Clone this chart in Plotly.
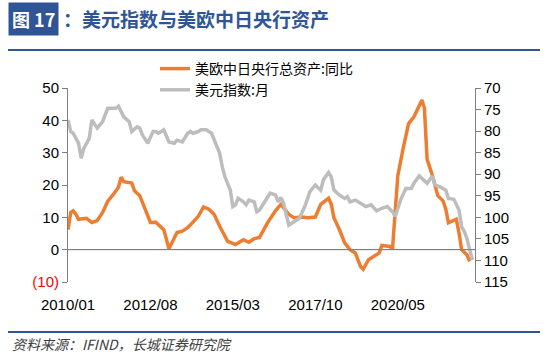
import plotly.graph_objects as go

# ---------------- data ----------------
cb_dates = ["2010-01","2010-02","2010-03","2010-04","2010-05","2010-08","2010-10","2010-12",
            "2011-02","2011-04","2011-06","2011-08","2011-09","2011-10","2012-01","2012-02",
            "2012-04","2012-06","2012-08","2012-10","2013-01","2013-03","2013-06","2013-08",
            "2013-10","2013-12","2014-02","2014-04","2014-06","2014-08","2014-10","2015-01",
            "2015-04","2015-07","2015-09","2015-11","2016-01","2016-04","2016-05","2016-07",
            "2016-09","2016-10","2016-12","2017-02","2017-05","2017-07","2017-10","2017-12",
            "2018-03","2018-04","2018-05","2018-07","2018-09","2018-11","2019-01","2019-03",
            "2019-04","2019-06","2019-08","2019-10","2019-11","2020-02","2020-03","2020-04",
            "2020-05","2020-07","2020-09","2020-11","2021-01","2021-02","2021-03","2021-04",
            "2021-06","2021-08","2021-10","2021-11","2021-12","2022-03","2022-04","2022-05",
            "2022-07","2022-08"]
cb_yoy = [6.2,11.5,12.0,11.0,9.4,9.7,8.4,9.0,
          11.5,15.0,17.0,19.3,22.4,21.0,20.6,18.2,
          16.7,12.5,8.4,8.5,6.2,0.3,5.3,5.7,
          6.8,8.5,10.4,13.2,12.5,10.9,7.3,2.6,
          1.6,3.1,2.3,3.4,3.8,8.3,9.6,12.0,
          14.0,13.0,10.9,9.9,10.1,9.9,10.1,14.0,
          15.9,14.0,9.9,6.3,2.1,0.0,-1.0,-5.2,
          -6.0,-3.1,-2.1,-1.0,1.3,1.0,0.2,11.5,
          22.9,31.3,39.0,41.1,44.3,46.3,43.8,28.0,
          22.9,16.7,15.1,12.5,8.3,9.4,5.2,0.0,
          -1.6,-3.6]

dxy_dates = ["2010-01","2010-02","2010-03","2010-05","2010-06","2010-07","2010-09","2010-10",
             "2010-12","2011-02","2011-03","2011-04","2011-07","2011-08","2011-10","2011-12",
             "2012-01","2012-03","2012-04","2012-05","2012-07","2012-09","2012-10","2012-11",
             "2013-01","2013-03","2013-05","2013-06","2013-08","2013-10","2013-11","2013-12",
             "2014-02","2014-03","2014-05","2014-07","2014-09","2014-10","2014-11","2014-12",
             "2015-02","2015-03","2015-04","2015-05","2015-07","2015-08","2015-09","2015-11",
             "2015-12","2016-01","2016-03","2016-05","2016-07","2016-08","2016-09","2016-10",
             "2016-12","2017-02","2017-04","2017-06","2017-08","2017-10","2017-12","2018-01",
             "2018-03","2018-04","2018-05","2018-07","2018-09","2018-10","2018-11","2019-01",
             "2019-03","2019-05","2019-07","2019-09","2019-11","2020-01","2020-03","2020-04",
             "2020-06","2020-08","2020-10","2020-11","2021-01","2021-02","2021-04","2021-06",
             "2021-07","2021-09","2021-11","2021-12","2022-02","2022-04","2022-05","2022-06",
             "2022-07","2022-08","2022-09"]
dxy = [77.4,80.1,80.5,82.8,86.3,84.0,81.7,77.4,
       79.3,77.8,76.3,74.7,74.7,74.2,76.7,77.8,
       80.1,79.0,79.3,80.9,82.8,80.1,80.1,80.5,
       79.7,82.5,82.8,82.1,82.5,80.5,80.1,80.5,
       80.1,79.7,79.7,80.5,83.6,85.1,88.3,90.6,
       93.7,97.5,97.1,95.6,96.4,97.1,96.0,96.4,
       98.7,98.3,96.4,94.4,94.8,96.4,95.4,96.7,
       101.8,100.9,100.2,97.5,94.0,92.5,93.7,91.3,
       89.6,90.6,93.7,94.8,95.6,95.2,96.4,96.0,
       96.7,97.5,97.1,98.5,97.9,97.5,98.7,99.8,
       96.0,93.3,93.3,92.1,90.4,91.0,92.1,90.4,
       92.5,93.0,93.7,95.6,95.8,98.3,102.2,103.3,
       104.9,107.5,109.9]

tick_dates = ["2010-01", "2012-08", "2015-03", "2017-10", "2020-05"]
tick_text = ["2010/01", "2012/08", "2015/03", "2017/10", "2020/05"]
left_ticks = [-10, 0, 10, 20, 30, 40, 50]
left_text = ['<span style="color:#FF0000">(10)</span>', "0", "10", "20", "30", "40", "50"]
right_ticks = [70, 75, 80, 85, 90, 95, 100, 105, 110, 115]

name_cb = "美欧中日央行总资产:同比"
name_dxy = "美元指数:月"
title_tag = "图 17"
title_main = "：美元指数与美欧中日央行资产"
source_text = "资料来源：IFIND，长城证券研究院"

# ---------------- figure ----------------
W, H = 550, 355
L, R, T, B = 68, 75, 88, 73
pw, ph = W - L - R, H - T - B

def px(x):
    return (x - L) / pw

def py(y):
    return (H - B - y) / ph

ORANGE = "#ED7D31"
GRAY = "#BDBDBD"
AXIS = "#7F7F7F"
BLUE = "#2F5597"
FONT = "Liberation Sans, Arial, sans-serif"
CJK = "Noto Sans CJK SC, sans-serif"

xrange = ["2010-01-01", "2022-10-01"]

fig = go.Figure()
fig.add_trace(go.Scatter(x=cb_dates, y=cb_yoy, name=name_cb, mode="lines",
                         line=dict(color=ORANGE, width=3.5), yaxis="y"))
fig.add_trace(go.Scatter(x=dxy_dates, y=dxy, name=name_dxy, mode="lines",
                         line=dict(color=GRAY, width=3.5), yaxis="y2"))

fig.update_layout(
    width=W, height=H,
    margin=dict(l=L, r=R, t=T, b=B, pad=0),
    paper_bgcolor="white", plot_bgcolor="white",
    font=dict(family=FONT, size=15, color="#000000"),
    showlegend=True,
    legend=dict(x=px(155), y=py(53), xanchor="left", yanchor="top",
                font=dict(family=CJK, size=14, color="#000000"),
                bgcolor="rgba(0,0,0,0)", tracegroupgap=0, itemwidth=30),
    # date labels along the bottom edge of the plot
    xaxis=dict(type="date", range=xrange, tickvals=tick_dates, ticktext=tick_text,
               showline=False, showgrid=False, zeroline=False, ticks="",
               ticklabelstandoff=12, tickfont=dict(size=15, family=FONT)),
    # left scale: its zero line plays the role of the horizontal axis line
    yaxis=dict(range=[-10, 50], tickvals=left_ticks, ticktext=left_text,
               showline=True, linecolor=AXIS, linewidth=1, ticks="outside", ticklen=5,
               tickcolor=AXIS, showgrid=False,
               zeroline=True, zerolinecolor=AXIS, zerolinewidth=1,
               tickfont=dict(size=15, family=FONT)),
    yaxis2=dict(range=[115, 70], tickvals=right_ticks, overlaying="y", side="right",
                showline=True, linecolor=AXIS, linewidth=1, ticks="outside", ticklen=5,
                tickcolor=AXIS, showgrid=False, zeroline=False,
                tickfont=dict(size=15, family=FONT)),
)

# horizontal axis line where the left scale is 0 (drawn over the plot area)
fig.add_shape(type="line", xref="x", x0=xrange[0], x1=xrange[1], yref="y", y0=0, y1=0,
              line=dict(color=AXIS, width=1), layer="above")

# title block
fig.add_annotation(xref="paper", yref="paper", x=px(8), y=py(19), xanchor="left", yanchor="middle",
                   text="<b>" + title_tag + "</b>", showarrow=False, bgcolor=BLUE,
                   borderpad=3, font=dict(family=CJK, size=18, color="white"))
fig.add_annotation(xref="paper", yref="paper", x=px(61), y=py(19), xanchor="left", yanchor="middle",
                   text="<b>" + title_main + "</b>", showarrow=False,
                   font=dict(family=CJK, size=19, color=BLUE))
fig.add_shape(type="line", xref="paper", yref="paper", x0=px(8), x1=px(540), y0=py(50), y1=py(50),
              line=dict(color=BLUE, width=2))
fig.add_shape(type="line", xref="paper", yref="paper", x0=px(8), x1=px(540), y0=py(332), y1=py(332),
              line=dict(color=BLUE, width=2))
fig.add_annotation(xref="paper", yref="paper", x=px(10), y=py(344), xanchor="left", yanchor="middle",
                   text="<i>" + source_text + "</i>", showarrow=False,
                   font=dict(family=CJK, size=14, color="#404040"))

fig.write_html("out.html",
               config={"displayModeBar": False},
               post_script="document.body.style.margin='0';document.body.style.padding='0';"
                           "document.documentElement.style.overflow='hidden';")
